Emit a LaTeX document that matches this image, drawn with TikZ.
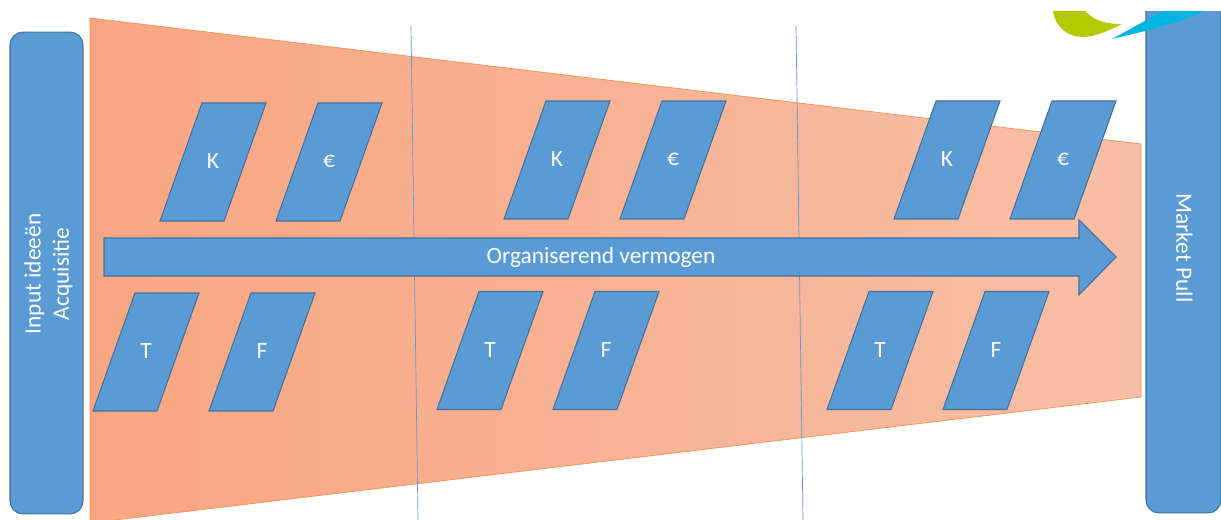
\documentclass[tikz,border=0pt]{standalone}
\usepackage{fontspec}
\setmainfont{Carlito}
\definecolor{vakblauw}{HTML}{5B9BD5}
\definecolor{vakrand}{HTML}{41719C}
\definecolor{trechterl}{HTML}{F8A682}
\definecolor{trechterr}{HTML}{F7BFA6}
\definecolor{trechterrand}{HTML}{F4914F}
\definecolor{logogroen}{HTML}{B5C900}
\definecolor{logoblauw}{HTML}{00B5E2}
\tikzset{
    vak/.style={draw=vakrand, fill=vakblauw, line width=0.6pt},
    tekst/.style={text=white, font=\fontsize{13.3pt}{16pt}\selectfont},
    kolom/.style={vak, rounded corners=0.26cm, inner sep=0pt},
    fase/.style={draw=vakblauw, line width=0.4pt}
}
\newcommand{\blok}[4]{
    \draw [vak, shift={(#2,#3)}] (-11,-58.5) -- (53,-58.5) -- (11,59.5) -- (-53,59.5) -- cycle;
    \node [tekst] (#1) at (#2,#3) {#4};
}

\begin{document}
\begin{tikzpicture}[x=0.02cm,y=-0.02cm]
    \useasboundingbox (0,0) rectangle (1221,520);
    \fill [white] (0,0) rectangle (1221,520);
    \shadedraw [left color=trechterl, right color=trechterr, draw=trechterrand, line width=0.4pt] (90,18) -- (1141,144) -- (1141,397) -- (90,523) -- cycle;
    \coordinate (f1t) at (411,26);
    \coordinate (f1b) at (418,520);
    \coordinate (f2t) at (796,26);
    \coordinate (f2b) at (803,520);
    \draw [fase] (f1t) -- (f1b);
    \draw [fase] (f2t) -- (f2b);
    \node [kolom, minimum width=1.46cm, minimum height=9.64cm] (input) at (46.5,273) {};
    \node [tekst, rotate=90, align=center] (inputtekst) at (48.5,274) {Input ideeën\\Acquisitie};
    \node [kolom, minimum width=1.5cm, minimum height=10.6cm] (market) at (1183.5,248) {};
    \node [tekst, rotate=-90] (markettekst) at (1184.5,248) {Market Pull};
    % logo, cut off at the top
    \fill [white] (1000,0) rectangle (1221,11);
    \fill [logogroen] (1053,11) .. controls (1056,28) and (1068,37) .. (1083,37) .. controls (1095,37) and (1110,30) .. (1122,24) .. controls (1105,24) and (1095,21) .. (1085,11) -- cycle;
    \fill [logoblauw] (1112,39) -- (1163,11) -- (1204,11) .. controls (1175,25) and (1145,31) .. cycle;
    \draw [vak] (104,238) -- (1079,238) -- (1079,220) -- (1116,257) -- (1079,295) -- (1079,276) -- (104,276) -- cycle;
    \node [tekst] (vermogen) at (601,257) {Organiserend vermogen};
    \blok{k1}{213}{161.5}{K}
    \blok{e1}{329}{161.5}{€}
    \blok{t1}{146}{351.5}{T}
    \blok{f1}{262}{351.5}{F}
    \blok{k2}{557}{159.5}{K}
    \blok{e2}{673}{159.5}{€}
    \blok{t2}{490}{350}{T}
    \blok{f2}{606}{350}{F}
    \blok{k3}{947}{159.5}{K}
    \blok{e3}{1063}{159.5}{€}
    \blok{t3}{880}{350}{T}
    \blok{f3}{996}{350}{F}
\end{tikzpicture}
\end{document}
